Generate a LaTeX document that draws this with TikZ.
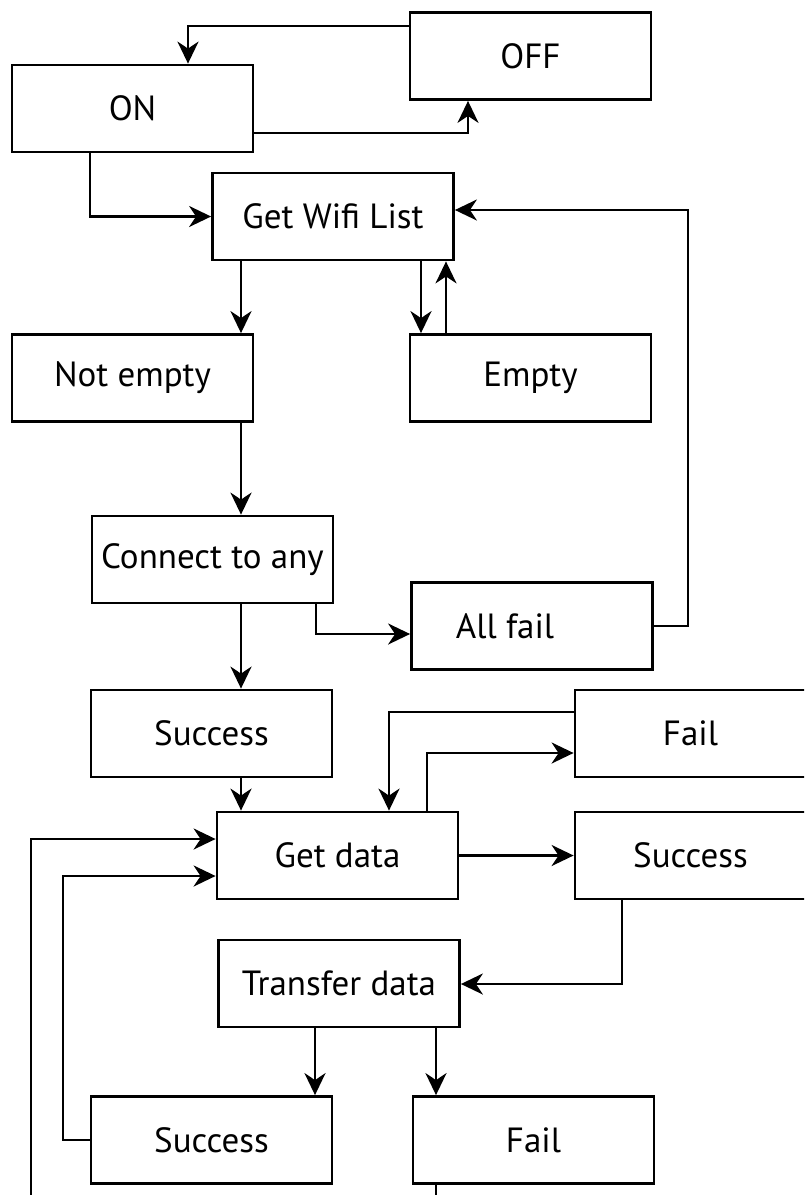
\documentclass[tikz,border=0pt]{standalone}
\usepackage{fontspec}
\setmainfont{PT Sans}
\usetikzlibrary{arrows.meta}
\begin{document}
\begin{tikzpicture}[x=1pt,y=-1pt,
  box/.style={draw,line width=2.8pt,rectangle,minimum width=241pt,minimum height=87pt,inner sep=0pt,font=\fontsize{35}{40}\selectfont},
  arr/.style={line width=2.6pt,-{Stealth[length=22pt,width=21pt,inset=7pt]}},
  ln/.style={line width=2.6pt}]
\useasboundingbox (0,0) rectangle (804,1195);
\clip (0,0) rectangle (804,1195);
\fill[white] (0,0) rectangle (804,1195);
% nodes
\node[box] (OFF) at (530.5,56) {OFF};
\node[box] (ON) at (132.5,108.5) {ON};
\node[box] (GW) at (333,216.5) {Get Wifi List};
\node[box] (NE) at (132.5,378) {Not empty};
\node[box] (EM) at (530.5,378) {Empty};
\node[box] (CA) at (212.5,559.5) {Connect to any};
\node[box] (AF) at (532,626) {All fail\hspace*{54pt}};
\node[box] (S1) at (211.5,733.5) {Success};
\node[box] (F2) at (695.5,733.5) {Fail\hspace*{10pt}};
\node[box] (GD) at (337.5,855.5) {Get data};
\node[box] (S2) at (695.5,855.5) {Success\hspace*{10pt}};
\node[box] (TD) at (339,983.5) {Transfer data};
\node[box] (S3) at (211.5,1140) {Success};
\node[box] (F3) at (533.5,1140) {Fail};
% helper coordinates
\coordinate (c1) at (188,26);
\coordinate (c2) at (468,133);
\coordinate (c3) at (90,217);
\coordinate (xa) at (241,0);
\coordinate (xb) at (421,0);
\coordinate (xc) at (446,0);
\coordinate (c8) at (316,634);
\coordinate (c9) at (688,210);
\coordinate (c11) at (389,712);
\coordinate (c12) at (427,753);
\coordinate (c14) at (622,984);
\coordinate (xd) at (315,0);
\coordinate (xe) at (436,0);
\coordinate (c16) at (63,876);
\coordinate (c17) at (31,839);
\coordinate (c18) at (436,1215);
% connectors
\draw[arr] (OFF.west |- c1) -| (c1 |- ON.north);
\draw[arr] (ON.east |- c2) -| (c2 |- OFF.south);
\draw[arr] (ON.south -| c3) |- (GW.west);
\draw[arr] (GW.south -| xa) -- (NE.north -| xa);
\draw[arr] (GW.south -| xb) -- (EM.north -| xb);
\draw[arr] (EM.north -| xc) -- (GW.south -| xc);
\draw[arr] (NE.south -| xa) -- (CA.north -| xa);
\draw[arr] (CA.south -| xa) -- (S1.north -| xa);
\draw[arr] (CA.south -| c8) |- (AF.west |- c8);
\draw[arr] (AF.east) -| (c9) -- (GW.east |- c9);
\draw[arr] (S1.south -| xa) -- (GD.north -| xa);
\draw[arr] (F2.west |- c11) -| (c11 |- GD.north);
\draw[arr] (GD.north -| c12) |- (F2.west |- c12);
\draw[arr] (GD.east) -- (S2.west);
\draw[arr] (S2.south -| c14) |- (TD.east |- c14);
\draw[arr] (TD.south -| xd) -- (S3.north -| xd);
\draw[arr] (TD.south -| xe) -- (F3.north -| xe);
\draw[arr] (S3.west) -| (c16) -- (GD.west |- c16);
\draw[arr] (F3.south -| xe) -- (c18) -| (c17) -- (GD.west |- c17);
\end{tikzpicture}
\end{document}
